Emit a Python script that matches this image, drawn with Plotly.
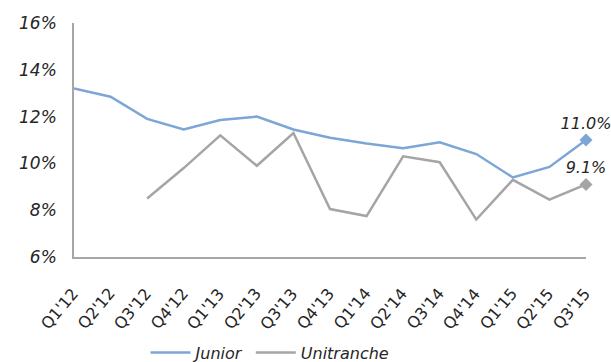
import plotly.graph_objects as go

quarters = ["Q1'12", "Q2'12", "Q3'12", "Q4'12", "Q1'13", "Q2'13", "Q3'13", "Q4'13",
            "Q1'14", "Q2'14", "Q3'14", "Q4'14", "Q1'15", "Q2'15", "Q3'15"]
junior = [13.2, 12.85, 11.9, 11.45, 11.85, 12.0, 11.45, 11.1, 10.85, 10.65, 10.9, 10.4, 9.4, 9.85, 11.0]
unitranche = [None, None, 8.5, 9.8, 11.2, 9.9, 11.3, 8.05, 7.75, 10.3, 10.05, 7.6, 9.3, 8.45, 9.1]
y_ticks = [6, 8, 10, 12, 14, 16]

blue = "#7BA6D6"
gray = "#A5A5A5"
font_family = "DejaVu Sans"
txt_color = "#262626"

x_idx = list(range(len(quarters)))
n = len(quarters)

fig = go.Figure()
for name, vals, col in [("Junior", junior, blue), ("Unitranche", unitranche, gray)]:
    fig.add_trace(go.Scatter(
        x=x_idx, y=vals, name=f"<i>{name}</i>", mode="lines",
        line=dict(color=col, width=2.5), cliponaxis=False,
    ))
    fig.add_trace(go.Scatter(
        x=[x_idx[-1]], y=[vals[-1]], mode="markers+text", showlegend=False,
        marker=dict(symbol="diamond", size=10, color=col),
        text=[f"<i>{vals[-1]:.1f}%</i>"], textposition="top center",
        textfont=dict(family=font_family, size=16, color=txt_color),
        cliponaxis=False,
    ))

# rotated category labels placed on the x scale
for i, q in zip(x_idx, quarters):
    fig.add_annotation(
        x=i, xref="x", y=-0.162, yref="paper", text=q, showarrow=False,
        textangle=-50, xanchor="center", yanchor="middle",
        xshift=-14, yshift=-14,
        font=dict(family=font_family, size=16, color=txt_color),
    )

fig.update_layout(
    width=611, height=362,
    margin=dict(l=74, r=25, t=23, b=105, autoexpand=False),
    plot_bgcolor="white", paper_bgcolor="white",
    font=dict(family=font_family, size=16, color=txt_color),
    showlegend=True,
    legend=dict(orientation="h", xref="container", yref="container",
                x=0.442, xanchor="center", y=0.026, yanchor="middle",
                font=dict(family=font_family, size=16, color=txt_color),
                itemwidth=40, tracegroupgap=0),
    xaxis=dict(
        range=[0, n - 1], tickmode="array", tickvals=x_idx,
        showticklabels=False,
        showgrid=False, zeroline=False, automargin=False,
        showline=True, linecolor="#A6A6A6", linewidth=1.5, ticks="",
    ),
    yaxis=dict(
        range=[6, 16], tickmode="array", tickvals=y_ticks,
        ticktext=[f"<i>{v}%</i>" for v in y_ticks],
        showgrid=False, zeroline=False, automargin=False,
        showline=True, linecolor="#A6A6A6", linewidth=1.5, ticks="",
        ticklabelstandoff=12,
        tickfont=dict(family=font_family, size=17, color=txt_color),
    ),
)

fig.write_html("out.html")
